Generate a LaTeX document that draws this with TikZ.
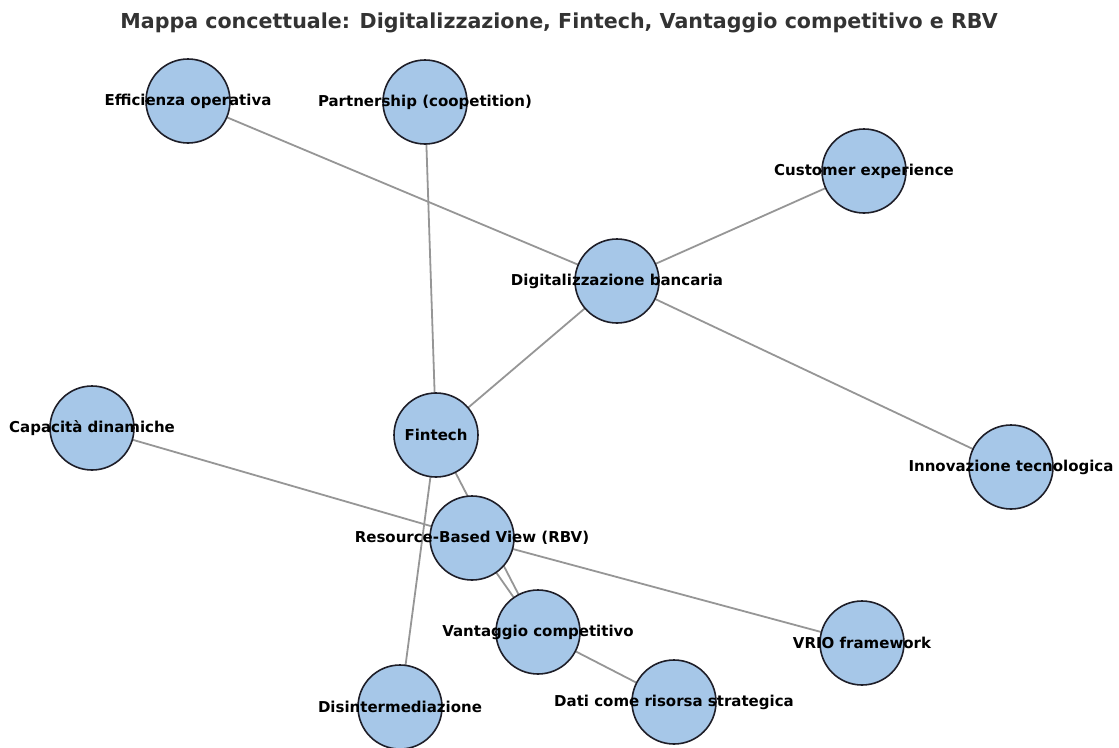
\documentclass[tikz,border=0pt]{standalone}
\usepackage{fontspec}
\setmainfont{DejaVu Sans}
\usepackage{tikz}
\usetikzlibrary{backgrounds}
\definecolor{nodeblue}{RGB}{166, 199, 232}
\definecolor{nodeedge}{RGB}{30, 30, 40}
\definecolor{linkgray}{RGB}{150, 150, 150}
\definecolor{titlegray}{RGB}{51, 51, 51}
\tikzset{
  concept/.style = {
    circle, draw=nodeedge, line width=1.6pt,
    fill=nodeblue, minimum size=84pt, inner sep=0pt,
    label={[font=\fontsize{15}{17}\selectfont\bfseries, text=black]center:#1}
  },
  link/.style = {draw=linkgray, line width=1.8pt},
  maptitle/.style = {font=\fontsize{20.6}{24}\selectfont\bfseries, text=titlegray},
}
\begin{document}
\begin{tikzpicture}[x=1pt, y=-1pt]
  \useasboundingbox (0,0) rectangle (1119,747);
  \clip (0,0) rectangle (1119,747);

  \node[maptitle] (title) at (559,23)
    {Mappa concettuale: Digitalizzazione, Fintech, Vantaggio competitivo e RBV};

  % Concetti
  \node[concept={Efficienza operativa}] (eff) at (188,101) {};
  \node[concept={Partnership (coopetition)}] (part) at (425,102) {};
  \node[concept={Customer experience}] (cust) at (864,171) {};
  \node[concept={Digitalizzazione bancaria}] (digit) at (617,281) {};
  \node[concept={Capacità dinamiche}] (capdin) at (92,428) {};
  \node[concept={Fintech}] (fintech) at (436,435) {};
  \node[concept={Innovazione tecnologica}] (innov) at (1011,467) {};
  \node[concept={Resource-Based View (RBV)}] (rbv) at (472,538) {};
  \node[concept={Vantaggio competitivo}] (vant) at (538,632) {};
  \node[concept={VRIO framework}] (vrio) at (862,643) {};
  \node[concept={Disintermediazione}] (disint) at (400,707) {};
  \node[concept={Dati come risorsa strategica}] (dati) at (674,702) {};

  % Collegamenti
  \begin{scope}[on background layer]
    \draw[link] (eff.center) -- (digit.center);
    \draw[link] (cust.center) -- (digit.center);
    \draw[link] (innov.center) -- (digit.center);
    \draw[link] (fintech.center) -- (digit.center);
    \draw[link] (part.center) -- (fintech.center);
    \draw[link] (fintech.center) -- (disint.center);
    \draw[link] (fintech.center) -- (vant.center);
    \draw[link] (capdin.center) -- (rbv.center);
    \draw[link] (rbv.center) -- (vrio.center);
    \draw[link] (rbv.center) -- (vant.center);
    \draw[link] (vant.center) -- (dati.center);
  \end{scope}
\end{tikzpicture}
\end{document}
